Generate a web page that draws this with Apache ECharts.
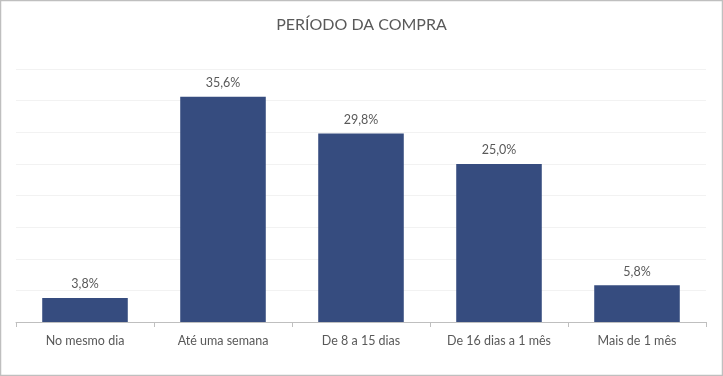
<!DOCTYPE html>
<html>
<head>
<meta charset="utf-8">
<script src="https://cdn.jsdelivr.net/npm/echarts@6/dist/echarts.min.js"></script>
<style>
  html, body { margin: 0; padding: 0; background: #fff; }
  #chart { width: 723px; height: 376px; }
</style>
</head>
<body>
<div id="chart"></div>
<script>
var categories = ['No mesmo dia', 'Até uma semana', 'De 8 a 15 dias', 'De 16 dias a 1 mês', 'Mais de 1 mês'];
var values = [3.8, 35.6, 29.8, 25.0, 5.8];

var dom = document.getElementById('chart');
var myChart = echarts.init(dom, null, { renderer: 'canvas' });

var option = {
  animation: false,
  backgroundColor: '#fff',
  textStyle: { fontFamily: 'Lato' },
  title: {
    text: 'PERÍODO DA COMPRA',
    left: 'center',
    top: 12,
    textStyle: { fontFamily: 'Lato', fontSize: 16, fontWeight: 'normal', color: '#595959' }
  },
  graphic: [{
    type: 'rect',
    shape: { x: 0.5, y: 0.5, width: 722, height: 375 },
    style: { fill: 'none', stroke: '#bfbfbf', lineWidth: 1.5 },
    silent: true
  }],
  grid: { left: 16, right: 17, top: 69, bottom: 54 },
  xAxis: {
    type: 'category',
    data: categories,
    axisLine: { lineStyle: { color: '#bfbfbf' } },
    axisTick: { show: true, length: 5, lineStyle: { color: '#bfbfbf' } },
    axisLabel: { color: '#595959', fontSize: 12.5, margin: 12 }
  },
  yAxis: {
    type: 'value',
    min: 0,
    max: 40,
    interval: 5,
    axisLabel: { show: false },
    axisLine: { show: false },
    axisTick: { show: false },
    splitLine: { lineStyle: { color: '#f2f2f2' } }
  },
  series: [{
    type: 'bar',
    data: values,
    barWidth: '62%',
    itemStyle: { color: '#364c7f' },
    label: {
      show: true,
      position: 'top',
      distance: 7,
      color: '#595959',
      fontSize: 12.5,
      formatter: function (p) { return p.value.toFixed(1).replace('.', ',') + '%'; }
    }
  }]
};

myChart.setOption(option);
window.addEventListener('resize', myChart.resize);
</script>
</body>
</html>
